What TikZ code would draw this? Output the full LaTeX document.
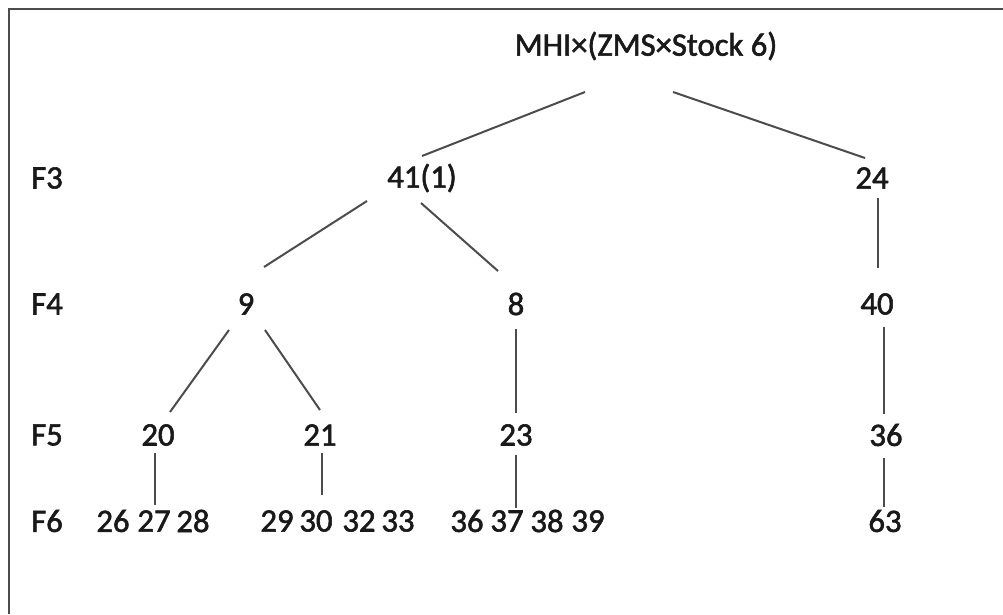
\documentclass[tikz,border=0pt]{standalone}
\usepackage{fontspec}
\setmainfont{Carlito}[BoldFont=Carlito,BoldFeatures={FakeBold=1.8}]
\usetikzlibrary{calc}
\begin{document}
\begin{tikzpicture}[x=0.75pt,y=-0.75pt,
  lbl/.style={inner sep=0pt,font=\fontsize{24.5}{26}\selectfont\bfseries,text=black!90},
  edge/.style={line width=1.5pt,draw=black!70}]
\useasboundingbox (0,0) rectangle (1003,614);
\fill[white] (0,0) rectangle (1003,614);
\draw[line width=2.2pt,draw=black!70] (9,614) -- (9,9) -- (1003,9);
% labels
\node[lbl] (T) at (646,46) {MHI×(ZMS×Stock 6)};
\node[lbl] (f3) at (47,178) {F3};
\node[lbl] (f4) at (47,304) {F4};
\node[lbl] (f5) at (47,435) {F5};
\node[lbl] (f6) at (47,521) {F6};
\node[lbl] (A) at (422,178) {41(1)};
\node[lbl] (B) at (872,178) {24};
\node[lbl] (C) at (246,304) {9};
\node[lbl] (D) at (516,304) {8};
\node[lbl] (E) at (877,304) {40};
\node[lbl] (F) at (158,435) {20};
\node[lbl] (G) at (320,435) {21};
\node[lbl] (H) at (516,435) {23};
\node[lbl] (I) at (886,435) {36};
\node[lbl] (n26) at (113,521) {26};
\node[lbl] (n27) at (154,521) {27};
\node[lbl] (n28) at (193,521) {28};
\node[lbl] (n29) at (277,521) {29};
\node[lbl] (n30) at (316,521) {30};
\node[lbl] (n32) at (359,521) {32};
\node[lbl] (n33) at (398,521) {33};
\node[lbl] (n36) at (467,521) {36};
\node[lbl] (n37) at (507,521) {37};
\node[lbl] (n38) at (547,521) {38};
\node[lbl] (n39) at (588,521) {39};
\node[lbl] (n63) at (885,521) {63};
% connectors
\draw[edge] ($(T)+(-61,46)$) -- ($(A)+(0,-22)$);
\draw[edge] ($(T)+(27,46)$) -- ($(B)+(-7,-20)$);
\draw[edge] ($(A)+(-55,23)$) -- ($(C)+(18,-37)$);
\draw[edge] ($(A)+(-1,25)$) -- ($(D)+(-18,-33)$);
\draw[edge] ($(B)+(6,20)$) -- ($(E)+(1,-36)$);
\draw[edge] ($(C)+(-17,26)$) -- ($(F)+(12,-23)$);
\draw[edge] ($(C)+(19,26)$) -- ($(G)+(0,-25)$);
\draw[edge] ($(D)+(0,25)$) -- ($(H)+(0,-22)$);
\draw[edge] ($(E)+(7,23)$) -- ($(I)+(-2,-21)$);
\draw[edge] ($(F)+(-3,18)$) -- ($(n27)+(1,-16)$);
\draw[edge] ($(G)+(2,18)$) -- ($(n30)+(6,-26)$);
\draw[edge] ($(H)+(0,20)$) -- ($(n37)+(9,-13)$);
\draw[edge] ($(I)+(-2,23)$) -- ($(n63)+(-1,-14)$);
\end{tikzpicture}
\end{document}
